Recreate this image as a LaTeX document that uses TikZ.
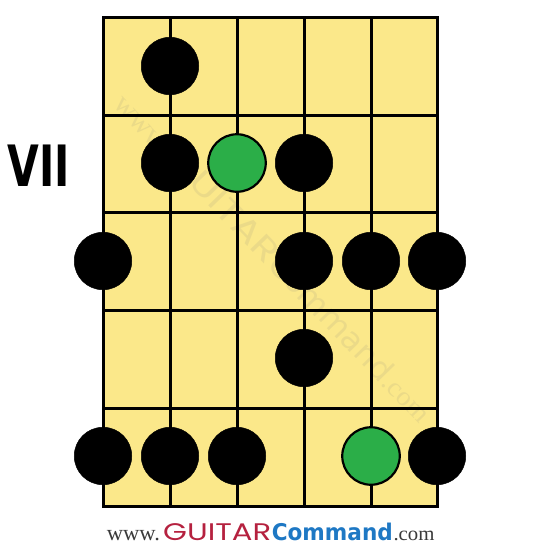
\documentclass[tikz,border=0pt]{standalone}
\usepackage{fontspec}
\usepackage{graphicx}
\newfontfamily\logoserif{Liberation Serif}
\newfontfamily\logogeo{Poppins}
\newfontfamily\logobold{DejaVu Sans}
\newfontfamily\numfont{DejaVu Sans}
\definecolor{board}{HTML}{FBE88A}
\definecolor{rootgreen}{HTML}{2BAE48}
\definecolor{logored}{HTML}{B5213F}
\definecolor{logoblue}{HTML}{1E78C4}
\definecolor{logogray}{HTML}{3A3A3A}
\definecolor{wmgray}{HTML}{7A7A7A}
\newcommand{\gclogo}[4]{\hbox{%
  \resizebox{53pt}{\height}{\fontsize{22}{22}\selectfont\logoserif\color{#1}www.}\hspace{3.3pt}%
  \resizebox{108pt}{\height}{\fontsize{24}{24}\selectfont\logogeo\color{#2}GUITAR}\hspace{0.6pt}%
  \resizebox{121pt}{\height}{\fontsize{23}{23}\selectfont\logobold#4\color{#3}Command}\hspace{0.7pt}%
  \resizebox{41pt}{\height}{\fontsize{20}{20}\selectfont\logoserif\color{#1}.com}}}
\begin{document}
\begin{tikzpicture}[x=1pt,y=-1pt,
  grid/.style={line width=3pt,black},
  note/.style={circle,fill=black,draw=black,line width=0.5pt,minimum size=57.5pt,inner sep=0pt},
  root/.style={circle,fill=rootgreen,draw=black,line width=2.2pt,minimum size=57.5pt,inner sep=0pt}]
\useasboundingbox (0,0) rectangle (541,550);
% board
\fill[board] (103,17) rectangle (437,506);
% watermark
\node[rotate=-46,opacity=0.12,inner sep=0pt] (wm) at (274,257) {\scalebox{1.35}{\gclogo{wmgray}{wmgray}{wmgray}{\mdseries}}};
\foreach \yy in {115,212,310,408}
  \draw[grid] (103,\yy) -- (437,\yy);
\foreach \xx in {170,237,304,371}
  \draw[grid] (\xx,17) -- (\xx,506);
\draw[grid,line join=miter] (103,17) rectangle (437,506);
% fret label
\node[anchor=center,inner sep=0pt] (pos) at (39,166) {\scalebox{0.72}[1]{\fontsize{57}{57}\selectfont\numfont\bfseries VII}};
% notes
\node[note] (n1) at (170,66) {};
\node[note] (n2) at (170,163) {};
\node[root] (r1) at (237,163) {};
\node[note] (n3) at (304,163) {};
\node[note] (n4) at (103,261) {};
\node[note] (n5) at (304,261) {};
\node[note] (n6) at (371,261) {};
\node[note] (n7) at (437,261) {};
\node[note] (n8) at (304,358) {};
\node[note] (n9) at (103,456) {};
\node[note] (n10) at (170,456) {};
\node[note] (n11) at (237,456) {};
\node[root] (r2) at (371,456) {};
\node[note] (n12) at (437,456) {};
% logo
\node[anchor=base west,inner sep=0pt] (logo) at (106.7,540) {\gclogo{logogray}{logored}{logoblue}{\bfseries}};
\end{tikzpicture}
\end{document}
